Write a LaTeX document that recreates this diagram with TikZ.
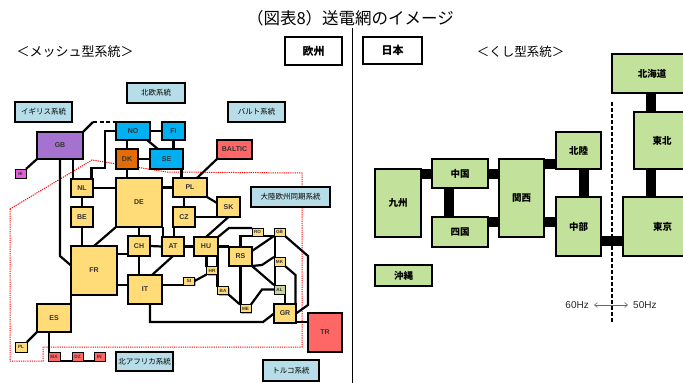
\documentclass[tikz,border=0pt]{standalone}
\usepackage{fontspec}
\setmainfont{Liberation Sans}
\newfontfamily\jp{Noto Sans CJK JP}
\usetikzlibrary{shadows,arrows.meta,backgrounds}
\definecolor{lb}{HTML}{B7DEE8}
\definecolor{nb}{HTML}{00B0F0}
\definecolor{dkc}{HTML}{E36C09}
\definecolor{gbp}{HTML}{A672CF}
\definecolor{iec}{HTML}{E85BE0}
\definecolor{rdc}{HTML}{FF6666}
\definecolor{yl}{HTML}{FFDC78}
\definecolor{alc}{HTML}{C4D79B}
\definecolor{jg}{HTML}{C2E19A}
\begin{document}
\begin{tikzpicture}[x=1pt,y=-1pt,
  shd/.style={drop shadow={shadow xshift=1.2pt,shadow yshift=-1.2pt,fill=black,opacity=.3}},
  eu/.style={draw=black,line width=1.3pt,inner sep=0pt,outer sep=0pt,shd,
    font=\fontsize{7}{7}\selectfont\bfseries,text=black!80},
  sm/.style={eu,line width=1pt,font=\fontsize{4.6}{5}\selectfont\bfseries},
  sys/.style={draw=black,line width=2.4pt,fill=lb,inner sep=0pt,outer sep=0pt,
    font=\jp\fontsize{7.5}{8}\selectfont},
  jn/.style={draw=black,line width=1.2pt,fill=jg,inner sep=0pt,outer sep=0pt,shd,
    font=\jp\bfseries\fontsize{9.5}{10}\selectfont},
  ln/.style={line width=2.2pt,black},
  jbar/.style={line width=10pt,black},
  hd/.style={draw=black,line width=2.4pt,fill=white,inner sep=0pt,
    font=\jp\bfseries\fontsize{11}{11}\selectfont}]
\useasboundingbox (0,0) rectangle (683,383);
\clip (0,0) rectangle (683,383);

% headings
\node[font=\jp\fontsize{16.5}{17}\selectfont] (title) at (350.5,18) {（図表8）送電網のイメージ};
\node[font=\jp\fontsize{13}{13}\selectfont] (mesh) at (75,52) {＜メッシュ型系統＞};
\node[font=\jp\fontsize{12.5}{13}\selectfont] (kushi) at (520.5,51.5) {＜くし型系統＞};
\node[hd,minimum width=57pt,minimum height=28pt] (eur) at (313.5,51) {欧州};
\node[hd,minimum width=59pt,minimum height=27pt] (jpn) at (392.5,50.5) {日本};
\coordinate (dtop) at (352.5,28);
\coordinate (dbot) at (352.5,383);
\draw[line width=1.5pt] (dtop) -- (dbot);

% system labels
\node[sys,minimum width=58pt,minimum height=20pt] (nordic) at (156,93) {北欧系統};
\node[sys,minimum width=57pt,minimum height=20pt] (uksys) at (43.5,112) {イギリス系統};
\node[sys,minimum width=57pt,minimum height=20pt] (baltsys) at (256.5,112) {バルト系統};
\node[sys,minimum width=79pt,minimum height=20pt] (cont) at (290.5,197) {大陸欧州同期系統};
\node[sys,minimum width=57pt,minimum height=19pt] (afr) at (144.5,361.5) {北アフリカ系統};
\node[sys,minimum width=56pt,minimum height=21pt] (tur) at (291,370.5) {トルコ系統};

% Europe nodes
\node[eu,fill=gbp,minimum width=46pt,minimum height=27pt] (GB) at (60,145.5) {GB};
\node[sm,fill=iec,minimum width=11pt,minimum height=9pt] (IE) at (20.5,173.5) {IE};
\node[eu,fill=nb,minimum width=34pt,minimum height=18pt] (NO) at (133,131) {NO};
\node[eu,fill=nb,minimum width=23pt,minimum height=18pt] (FI) at (173.5,131) {FI};
\node[eu,fill=dkc,minimum width=22pt,minimum height=20pt] (DK) at (127,159) {DK};
\node[eu,fill=nb,minimum width=33pt,minimum height=20pt] (SE) at (166.5,159) {SE};
\node[eu,fill=rdc,minimum width=35pt,minimum height=19pt] (BAL) at (234.5,149.5) {BALTIC};
\node[eu,fill=yl,minimum width=46pt,minimum height=49pt] (DE) at (139,202.5) {DE};
\node[eu,fill=yl,minimum width=22pt,minimum height=18pt] (NL) at (82,188) {NL};
\node[eu,fill=yl,minimum width=22pt,minimum height=20pt] (BE) at (82,217) {BE};
\node[eu,fill=yl,minimum width=34pt,minimum height=19pt] (PL) at (190,187.5) {PL};
\node[eu,fill=yl,minimum width=22pt,minimum height=20pt] (CZ) at (184,217) {CZ};
\node[eu,fill=yl,minimum width=23pt,minimum height=20pt] (SK) at (228.5,207) {SK};
\node[eu,fill=yl,minimum width=22pt,minimum height=20pt] (CH) at (139,246) {CH};
\node[eu,fill=yl,minimum width=22pt,minimum height=19pt] (AT) at (173,246.5) {AT};
\node[eu,fill=yl,minimum width=24pt,minimum height=19pt] (HU) at (206,246.5) {HU};
\node[eu,fill=yl,minimum width=23pt,minimum height=19pt] (RS) at (240.5,256.5) {RS};
\node[sm,fill=yl,minimum width=11pt,minimum height=8pt] (RO) at (257.5,232) {RO};
\node[sm,fill=yl,minimum width=11pt,minimum height=8pt] (BG) at (279.5,232) {GB};
\node[sm,fill=yl,minimum width=11pt,minimum height=9pt] (MK) at (279.5,261.5) {MK};
\node[sm,fill=alc,minimum width=11pt,minimum height=9pt] (AL) at (279.5,289.5) {AL};
\node[eu,fill=yl,minimum width=22pt,minimum height=19pt] (GR) at (285,313.5) {GR};
\node[sm,fill=yl,minimum width=11pt,minimum height=8pt] (HR) at (212,270.5) {HR};
\node[sm,fill=yl,minimum width=11pt,minimum height=8pt] (SI) at (189,281) {SI};
\node[sm,fill=yl,minimum width=11pt,minimum height=8pt] (BA) at (223,290.5) {BA};
\node[sm,fill=yl,minimum width=11pt,minimum height=8pt] (ME) at (245.5,308.5) {ME};
\node[eu,fill=rdc,minimum width=34pt,minimum height=39pt] (TR) at (325,332.5) {TR};
\node[eu,fill=yl,minimum width=46pt,minimum height=49pt] (FR) at (94,270.5) {FR};
\node[eu,fill=yl,minimum width=34pt,minimum height=29pt] (IT) at (145,289.5) {IT};
\node[eu,fill=yl,minimum width=34pt,minimum height=28pt] (ES) at (54,318) {ES};
\node[sm,fill=yl,minimum width=12pt,minimum height=10pt] (PT) at (21,347) {PL};
\node[sm,fill=rdc,minimum width=12pt,minimum height=9pt] (MA) at (54,356.5) {MA};
\node[sm,fill=rdc,minimum width=11pt,minimum height=9pt] (DZ) at (77.5,356.5) {DZ};
\node[sm,fill=rdc,minimum width=11pt,minimum height=9pt] (TN) at (99.5,356.5) {IN};

% Japan nodes
\node[jn,minimum width=80pt,minimum height=39pt] (hok) at (652,73.5) {北海道};
\node[jn,minimum width=56pt,minimum height=57pt] (toh) at (662,140.5) {東北};
\node[jn,minimum width=45pt,minimum height=37pt] (hkr) at (578.5,150.5) {北陸};
\node[jn,minimum width=56pt,minimum height=29pt] (chg) at (460,173.5) {中国};
\node[jn,minimum width=45pt,minimum height=78pt] (kan) at (521.5,198) {関西};
\node[jn,minimum width=46pt,minimum height=68pt] (kyu) at (398,203) {九州};
\node[jn,minimum width=56pt,minimum height=30pt] (shi) at (460,232) {四国};
\node[jn,minimum width=45pt,minimum height=59pt] (chb) at (578.5,226.5) {中部};
\node[jn,minimum width=79pt,minimum height=59pt] (tky) at (662.5,226.5) {東京};
\node[jn,minimum width=57pt,minimum height=21pt] (oki) at (403.5,275.5) {沖縄};

% frequency boundary
\coordinate (ft) at (612,102);
\coordinate (fb) at (612,323);
\draw[line width=2pt,dash pattern=on 4pt off 2pt] (ft) -- (fb);
\node[anchor=east,inner sep=0pt,font=\fontsize{10}{10}\selectfont,text=black!85] (h60) at (589,305) {60Hz};
\node[anchor=west,inner sep=0pt,font=\fontsize{10}{10}\selectfont,text=black!85] (h50) at (633,305) {50Hz};
\draw[black!60,line width=0.6pt,{Straight Barb[length=3pt,width=5pt]}-{Straight Barb[length=3pt,width=5pt]},
  shorten <=5pt,shorten >=5pt] (h60.east) -- (h50.west);

\begin{scope}[on background layer]
% synchronous area
\draw[red,line width=1pt,dash pattern=on 1.2pt off 1pt]
  (10,209) -- (92,160) -- (167,172) -- (302,173) -- (302,347) -- (43,347) -- (43,361) -- (10,361) -- cycle;
% Europe connectors
\coordinate (gbno) at (93,122);
\draw[ln] (GB.north east) -- (gbno);
\draw[ln,dash pattern=on 4pt off 2.5pt] (gbno) -- (NO.north west);
\draw[ln] (NO.east) -- (FI.west);
\draw[ln] ([xshift=-3pt]NO.south east) -- ([xshift=8pt]SE.north west);
\draw[ln] (FI.south) -- (FI.south |- SE.north);
\draw[ln] (DK.north |- NO.south) -- (DK.north);
\draw[ln] (DK.east) -- (SE.west);
\draw[ln] (DK.south) -- (DK.south |- DE.north);
\draw[ln] (NO.west) -| (105,168) -| ([xshift=-1.5pt]NL.north east);
\draw[ln] ([xshift=2pt]NL.north west |- GB.south) -- ([xshift=2pt]NL.north west);
\draw[ln] (GB.south) -- (60,256) -- ([yshift=5pt]FR.west);
\draw[ln] (IE.north east) -- (GB.south west);
\draw[ln] (NL.east) -- (NL.east -| DE.west);
\draw[ln] (NL.south) -- (BE.north);
\draw[ln] (BE.south) -- (BE.south |- FR.north);
\draw[ln] (DE.south west) -- (FR.north);
\draw[ln] (PL.west) -- (PL.west -| DE.east);
\draw[ln] (CH.north) -- (CH.north |- DE.south);
\draw[ln] ([xshift=1pt]AT.north west) -- ([xshift=1pt]AT.north west |- DE.south);
\draw[ln] ([xshift=-1.5pt]SE.south east) -- ([xshift=-1.5pt]SE.south east |- PL.north);
\draw[ln] ([xshift=7pt]PL.north) -- (BAL.south west);
\draw[ln] (CZ.north) -- (CZ.north |- PL.south);
\draw[ln] (PL.south east) -- ([yshift=4pt]SK.west);
\draw[ln] (CZ.east) -- (CZ.east -| SK.west);
\draw[ln] ([xshift=1pt]CZ.south west) -- ([xshift=1pt]CZ.south west |- AT.north);
\draw[ln] (SK.south) -- (HU.north);
\draw[ln] (CH.east) -- (AT.west);
\draw[ln] (AT.east) -- (HU.west);
\draw[ln] (CH.south) -- (CH.south |- IT.north);
\draw[ln] (AT.south) -- ([xshift=7pt]IT.north);
\draw[ln] (FR.east |- 0,254) -- (CH.west |- 0,254);
\draw[ln] (FR.east |- 0,285) -- (IT.west |- 0,285);
\draw[ln] (FR.south west) -- (ES.north east);
\draw[ln] (ES.south west) -- (PT.north east);
\draw[ln] ([xshift=1pt]MA.north west) -- ([xshift=1pt]MA.north west |- ES.south);
\draw[ln] (MA.south east) -- (TN.south west);
\draw[ln] ([xshift=5pt]IT.south) |- (263,322) -- (GR.west);
\draw[ln] (IT.east |- SI.south west) -- (SI.south west);
\draw[ln] (SI.east) -- (HR.south west);
\draw[ln] (HR.north west) -- (HR.north west |- HU.south);
\draw[ln] (BA.north west) -- (BA.north west |- HU.south);
\draw[ln] (HU.east) -- (RS.north west |- HU.east);
\draw[ln] (HU.north east) -- (229,228) -- (RO.north west);
\draw[ln] (RS.north) |- (BG.south west);
\draw[ln] ([yshift=-4pt]RS.north east) -- (BG.south west);
\draw[ln] ([xshift=1pt]BG.south west) -- ([xshift=1pt]MK.north west);
\draw[ln] ([xshift=1pt]MK.south west) -- ([xshift=1pt]AL.north west);
\draw[ln] (BG.south east) -- (308,256) -- (308,305) -- (GR.east);
\draw[ln] (MK.south east) -- (295.5,275) -- ([xshift=-0.5pt]GR.north east);
\draw[ln] (RS.south east) -- (262,265) -- (MK.north west);
\draw[ln] (RS.south east) -- (AL.north west);
\draw[ln] (RS.south) -- (RS.south |- ME.north);
\draw[ln] (BA.south east) -- (ME.north west);
\draw[ln] (ME.north east) -- (262,289.5) -- (AL.west);
\draw[ln] (GR.north) -- (GR.north |- AL.south);
\draw[ln] (GR.east |- 0,322) -- (TR.west |- 0,322);
% Japan connectors
\draw[jbar] (kyu.east |- 0,174) -- (chg.west |- 0,174);
\draw[jbar] (chg.south -| 448.5,0) -- (shi.north -| 448.5,0);
\draw[jbar] (chg.east |- 0,174) -- (kan.west |- 0,174);
\draw[jbar] (shi.east |- 0,222) -- (kan.west |- 0,222);
\draw[jbar] (kan.east |- 0,164) -- (hkr.west |- 0,164);
\draw[jbar] (kan.east |- 0,222) -- (chb.west |- 0,222);
\draw[jbar] (hkr.south -| 583.5,0) -- (chb.north -| 583.5,0);
\draw[jbar] (chb.east |- 0,241) -- (tky.west |- 0,241);
\draw[jbar] (toh.south -| 651,0) -- (tky.north -| 651,0);
\draw[jbar] (hok.south -| 651,0) -- (toh.north -| 651,0);
\end{scope}
\end{tikzpicture}
\end{document}
